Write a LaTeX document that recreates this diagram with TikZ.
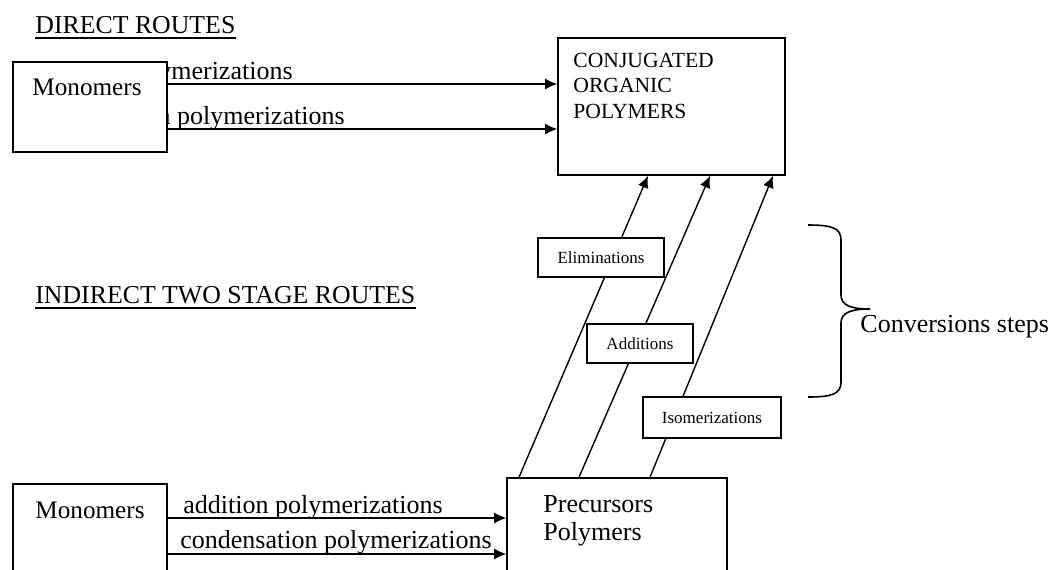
\documentclass[tikz,border=0pt]{standalone}
\usepackage{fontspec}
\setmainfont{Liberation Serif}
\usetikzlibrary{arrows.meta,fit}
\tikzset{
    box/.style={draw, line width=0.8pt, fill=white, inner sep=0pt},
    tag/.style={box, minimum height=19.5pt, font=\fontsize{8.5}{10}\selectfont},
    flow/.style={line width=0.7pt, -{Latex[length=6pt,width=5.5pt]}},
    big/.style={inner sep=0pt, font=\fontsize{13}{14}\selectfont},
    head/.style={inner sep=0pt, anchor=base west, font=\fontsize{12.9}{14}\selectfont},
}
\begin{document}
\begin{tikzpicture}[x=0.5pt, y=-0.5pt]
        \useasboundingbox (0,0) rectangle (1049,569);

        \def\ta{84}
        \def\tb{129}
        \def\ba{518}
        \def\bb{554}

        \node[head] (dir) at (35,33) {DIRECT ROUTES};
        \draw[line width=1pt] ([yshift=-2.4pt]dir.south west) -- ([yshift=-2.4pt]dir.south east);
        \node[head] (ind) at (35,303) {INDIRECT TWO STAGE ROUTES};
        \draw[line width=1pt] ([yshift=-2.2pt]ind.south west) -- ([yshift=-2.2pt]ind.south east);

        \node[big, anchor=base east] (adda) at (293,79) {addition polymerizations};
        \node[big, anchor=base east] (cona) at (345,124) {condensation polymerizations};

        \node[box, fit={(13,62) (167,152)}] (mono1) {};
        \node[big, anchor=base west, font=\fontsize{12.6}{14}\selectfont] (mtxt1) at (32,95) {Monomers};
        \node[box, fit={(558,38) (785,175)}] (cop) {};
        \node[inner sep=0pt, anchor=base west, align=left, font=\fontsize{10.8}{12.75}\selectfont] (ctxt) at (573,118) {CONJUGATED\\ORGANIC\\POLYMERS};

        \node[box, fit={(13,484) (167,572)}] (mono2) {};
        \node[big, anchor=base west, font=\fontsize{12.6}{14}\selectfont] (mtxt2) at (35,518) {Monomers};
        \node[box, fit={(507,478) (727,572)}] (prec) {};
        \node[big, anchor=base west, align=left] (ptxt) at (543,540) {Precursors\\Polymers};

        \node[big, anchor=base west] (addb) at (183,513) {addition polymerizations};
        \node[big, anchor=base west] (conb) at (180,548) {condensation polymerizations};

        \draw[flow] (mono1.east |- 0,\ta) -- (cop.west |- 0,\ta);
        \draw[flow] (mono1.east |- 0,\tb) -- (cop.west |- 0,\tb);
        \draw[flow] (mono2.east |- 0,\ba) -- (prec.west |- 0,\ba);
        \draw[flow] (mono2.east |- 0,\bb) -- (prec.west |- 0,\bb);

        \draw[flow] (519,0 |- prec.north) -- (648,0 |- cop.south);
        \draw[flow] (579,0 |- prec.north) -- (710,0 |- cop.south);
        \draw[flow] (650,0 |- prec.north) -- (773,0 |- cop.south);

        \node[tag, minimum width=63pt] (elim) at (601,257.5) {Eliminations};
        \node[tag, minimum width=53pt] (addi) at (640,343.5) {Additions};
        \node[tag, minimum width=69pt, minimum height=20.5pt] (isom) at (712,417.5) {Isomerizations};

        \draw[line width=0.8pt] (808,225) .. controls (832,225) and (841,228) .. (841,240) -- (841,295)
            .. controls (841,305) and (850,309) .. (870,309) .. controls (850,309) and (841,313) .. (841,323)
            -- (841,382) .. controls (841,394) and (832,397) .. (808,397);
        \node[big, anchor=base west] (conv) at (860,332) {Conversions steps};
    \end{tikzpicture}
\end{document}
